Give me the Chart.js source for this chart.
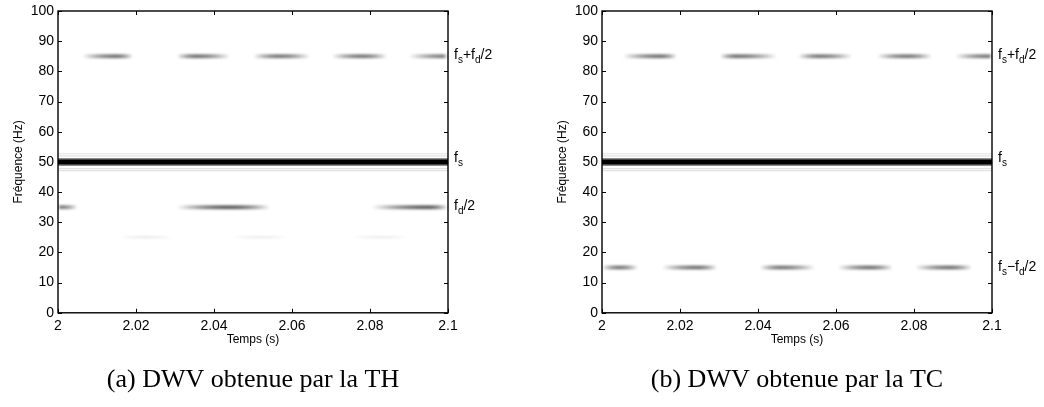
<!DOCTYPE html>
<html>
<head>
<meta charset="utf-8">
<script src="https://cdn.jsdelivr.net/npm/chart.js@4.4.0/dist/chart.umd.min.js"></script>
<style>
  html, body { margin: 0; padding: 0; background: #fff; }
  body { width: 1044px; height: 407px; position: relative; overflow: hidden; }
  .panel { position: absolute; top: 0; width: 522px; height: 407px; }
  #panelA { left: 0; }
  #panelB { left: 522px; }
</style>
</head>
<body>
<div class="panel" id="panelA"><canvas id="chartA"></canvas></div>
<div class="panel" id="panelB"><canvas id="chartB"></canvas></div>
<script>
// Axis ticks
const xTickValues = [2, 2.02, 2.04, 2.06, 2.08, 2.1];
const xTickLabels = ['2', '2.02', '2.04', '2.06', '2.08', '2.1'];
const yTickValues = [0, 10, 20, 30, 40, 50, 60, 70, 80, 90, 100];

// Carrier f_s (same in both panels) and its faint side lines
const carrierFreq = 50;
const carrierSideFreqs = [52.7, 52.0, 47.8, 47.1];

// (a) TH : time-frequency blobs (start, end, peak time, frequency, level)
const bandFreqA  = [85, 85, 85, 85, 85, 35, 35, 35, 25, 25, 25];
const bandStartA = [2.0062, 2.0305, 2.0500, 2.0702, 2.0900, 2.0000, 2.0305, 2.0805, 2.0160, 2.0450, 2.0756];
const bandEndA   = [2.0192, 2.0441, 2.0646, 2.0844, 2.1000, 2.0050, 2.0544, 2.1000, 2.0295, 2.0590, 2.0895];
const bandPeakA  = [2.0150, 2.0356, 2.0569, 2.0780, 2.1000, 2.0008, 2.0440, 2.0950, 2.0222, 2.0520, 2.0830];
const bandLevelA = [0.52, 0.52, 0.50, 0.50, 0.50, 0.48, 0.60, 0.60, 0.10, 0.09, 0.09];

// (b) TC
const bandFreqB  = [85, 85, 85, 85, 85, 15, 15, 15, 15, 15];
const bandStartB = [2.0054, 2.0303, 2.0503, 2.0705, 2.0905, 2.0000, 2.0154, 2.0405, 2.0605, 2.0803];
const bandEndB   = [2.0192, 2.0449, 2.0641, 2.0846, 2.1000, 2.0092, 2.0295, 2.0546, 2.0746, 2.0949];
const bandPeakB  = [2.0149, 2.0346, 2.0559, 2.0782, 2.0990, 2.0045, 2.0244, 2.0460, 2.0687, 2.0892];
const bandLevelB = [0.52, 0.52, 0.50, 0.50, 0.50, 0.50, 0.52, 0.50, 0.52, 0.52];

// Right-hand annotations ("_" = next char is a subscript)
const markTextA = ['f_s+f_d/2', 'f_s', 'f_d/2'];
const markFreqA = [85, 51, 35];
const markTextB = ['f_s+f_d/2', 'f_s', 'f_s\u2212f_d/2'];
const markFreqB = [85, 51, 15];

const captionA = '(a) DWV obtenue par la TH';
const captionB = '(b) DWV obtenue par la TC';

const SANS = "'Liberation Sans', Arial, sans-serif";

/**
 * Horizontal gradient for one blob: transparent at both ends, darkest at the peak.
 */
function bandGradient(chart, t0, t1, tp, level) {
    const { ctx, scales } = chart;
    const x0 = scales.x.getPixelForValue(t0);
    const x1 = scales.x.getPixelForValue(t1);
    const xp = scales.x.getPixelForValue(tp);
    const g = ctx.createLinearGradient(x0, 0, x1, 0);
    const p = Math.min(Math.max((xp - x0) / (x1 - x0), 0), 1);
    const steps = 8;
    for (let i = 0; i <= steps; i++) {
        const u = i / steps;
        const a = level * Math.sin(u * Math.PI / 2);
        g.addColorStop(p * u, `rgba(0,0,0,${a.toFixed(3)})`);
        g.addColorStop(1 - (1 - p) * u, `rgba(0,0,0,${a.toFixed(3)})`);
    }
    return g;
}

function buildDatasets(freqs, starts, ends, peaks, levels) {
    const sets = [];
    // carrier core first so it is drawn on top
    sets.push({ data: [{ x: 2, y: carrierFreq }, { x: 2.1, y: carrierFreq }], borderColor: '#000', borderWidth: 5 });
    sets.push({ data: [{ x: 2, y: carrierFreq }, { x: 2.1, y: carrierFreq }], borderColor: '#8c8c8c', borderWidth: 8 });
    carrierSideFreqs.forEach(f => {
        sets.push({ data: [{ x: 2, y: f }, { x: 2.1, y: f }], borderColor: '#e2e2e2', borderWidth: 1.2 });
    });
    freqs.forEach((f, i) => {
        sets.push({
            data: [{ x: starts[i], y: f }, { x: ends[i], y: f }],
            borderWidth: levels[i] < 0.3 ? 2 : 4,
            blur: 1,
            borderColor: c => c.chart.chartArea
                ? bandGradient(c.chart, starts[i], ends[i], peaks[i], levels[i])
                : 'rgba(0,0,0,0)',
        });
    });
    return sets.map(s => Object.assign({ pointRadius: 0, borderCapStyle: 'butt', tension: 0, fill: false }, s));
}

// Blur only the blobs, not the carrier
const blurPlugin = {
    id: 'blur',
    beforeDatasetDraw(chart, args) {
        const b = chart.data.datasets[args.index].blur;
        if (b) { chart.ctx.save(); chart.ctx.filter = `blur(${b}px)`; }
    },
    afterDatasetDraw(chart, args) {
        if (chart.data.datasets[args.index].blur) chart.ctx.restore();
    },
};

function drawMark(ctx, text, x, y) {
    let cx = x;
    for (let i = 0; i < text.length; i++) {
        if (text[i] === '_') {
            i++;
            ctx.font = `10px ${SANS}`;
            ctx.fillText(text[i], cx, y + 4);
        } else {
            ctx.font = `14px ${SANS}`;
            ctx.fillText(text[i], cx, y);
        }
        cx += ctx.measureText(text[i]).width;
    }
}

// Box, inward ticks on all four sides, right-hand annotations
const framePlugin = {
    id: 'frame',
    afterDatasetsDraw(chart, args, opts) {
        const { ctx, chartArea: a, scales: { x, y } } = chart;
        ctx.save();
        ctx.strokeStyle = '#000';
        ctx.lineWidth = 1;
        ctx.beginPath();
        x.ticks.forEach(t => {
            const px = Math.round(x.getPixelForValue(t.value)) + 0.5;
            ctx.moveTo(px, a.bottom); ctx.lineTo(px, a.bottom - 4);
            ctx.moveTo(px, a.top); ctx.lineTo(px, a.top + 4);
        });
        y.ticks.forEach(t => {
            const py = Math.round(y.getPixelForValue(t.value)) + 0.5;
            ctx.moveTo(a.left, py); ctx.lineTo(a.left + 4, py);
            ctx.moveTo(a.right, py); ctx.lineTo(a.right - 4, py);
        });
        ctx.stroke();
        ctx.lineWidth = 1.4;
        ctx.strokeRect(a.left, a.top, a.right - a.left, a.bottom - a.top);

        ctx.fillStyle = '#000';
        ctx.textBaseline = 'alphabetic';
        ctx.textAlign = 'left';
        opts.texts.forEach((txt, i) => {
            drawMark(ctx, txt, a.right + 6, y.getPixelForValue(opts.freqs[i]) + 3);
        });
        ctx.restore();
    },
};

function makeChart(id, datasets, texts, freqs, caption, padding) {
    return new Chart(document.getElementById(id), {
        type: 'line',
        data: { datasets },
        options: {
            responsive: true,
            maintainAspectRatio: false,
            animation: false,
            devicePixelRatio: 1,
            layout: { padding },
            scales: {
                x: {
                    type: 'linear',
                    min: 2,
                    max: 2.1,
                    afterBuildTicks: s => { s.ticks = xTickValues.map(v => ({ value: v })); },
                    afterFit: s => { s.height = 40; },
                    grid: { display: false, drawTicks: false },
                    border: { display: false },
                    ticks: {
                        callback: (v, i) => xTickLabels[i],
                        maxRotation: 0,
                        autoSkip: false,
                        padding: 5,
                        color: '#000',
                        font: { family: SANS, size: 14 },
                    },
                    title: {
                        display: true,
                        text: 'Temps (s)',
                        color: '#000',
                        font: { family: SANS, size: 12 },
                        padding: { top: 0, bottom: 6 },
                    },
                },
                y: {
                    type: 'linear',
                    min: 0,
                    max: 100,
                    afterBuildTicks: s => { s.ticks = yTickValues.map(v => ({ value: v })); },
                    afterFit: s => { s.width = 58; },
                    grid: { display: false, drawTicks: false },
                    border: { display: false },
                    ticks: {
                        padding: 4,
                        color: '#000',
                        font: { family: SANS, size: 14, lineHeight: 1 },
                    },
                    title: {
                        display: true,
                        text: 'Fréquence (Hz)',
                        color: '#000',
                        font: { family: SANS, size: 12 },
                        padding: { top: 11, bottom: 0 },
                    },
                },
            },
            plugins: {
                legend: { display: false },
                tooltip: { enabled: false },
                title: {
                    display: true,
                    position: 'bottom',
                    fullSize: false,
                    text: caption,
                    color: '#000',
                    font: { family: "'Liberation Serif', serif", size: 26, weight: 'normal' },
                    padding: { top: 12, bottom: 11 },
                },
                frame: { texts, freqs },
            },
        },
        plugins: [blurPlugin, framePlugin],
    });
}

makeChart('chartA', buildDatasets(bandFreqA, bandStartA, bandEndA, bandPeakA, bandLevelA),
    markTextA, markFreqA, captionA, { left: 0, right: 74, top: 7, bottom: 0 });
makeChart('chartB', buildDatasets(bandFreqB, bandStartB, bandEndB, bandPeakB, bandLevelB),
    markTextB, markFreqB, captionB, { left: 22, right: 52, top: 7, bottom: 0 });
</script>
</body>
</html>
